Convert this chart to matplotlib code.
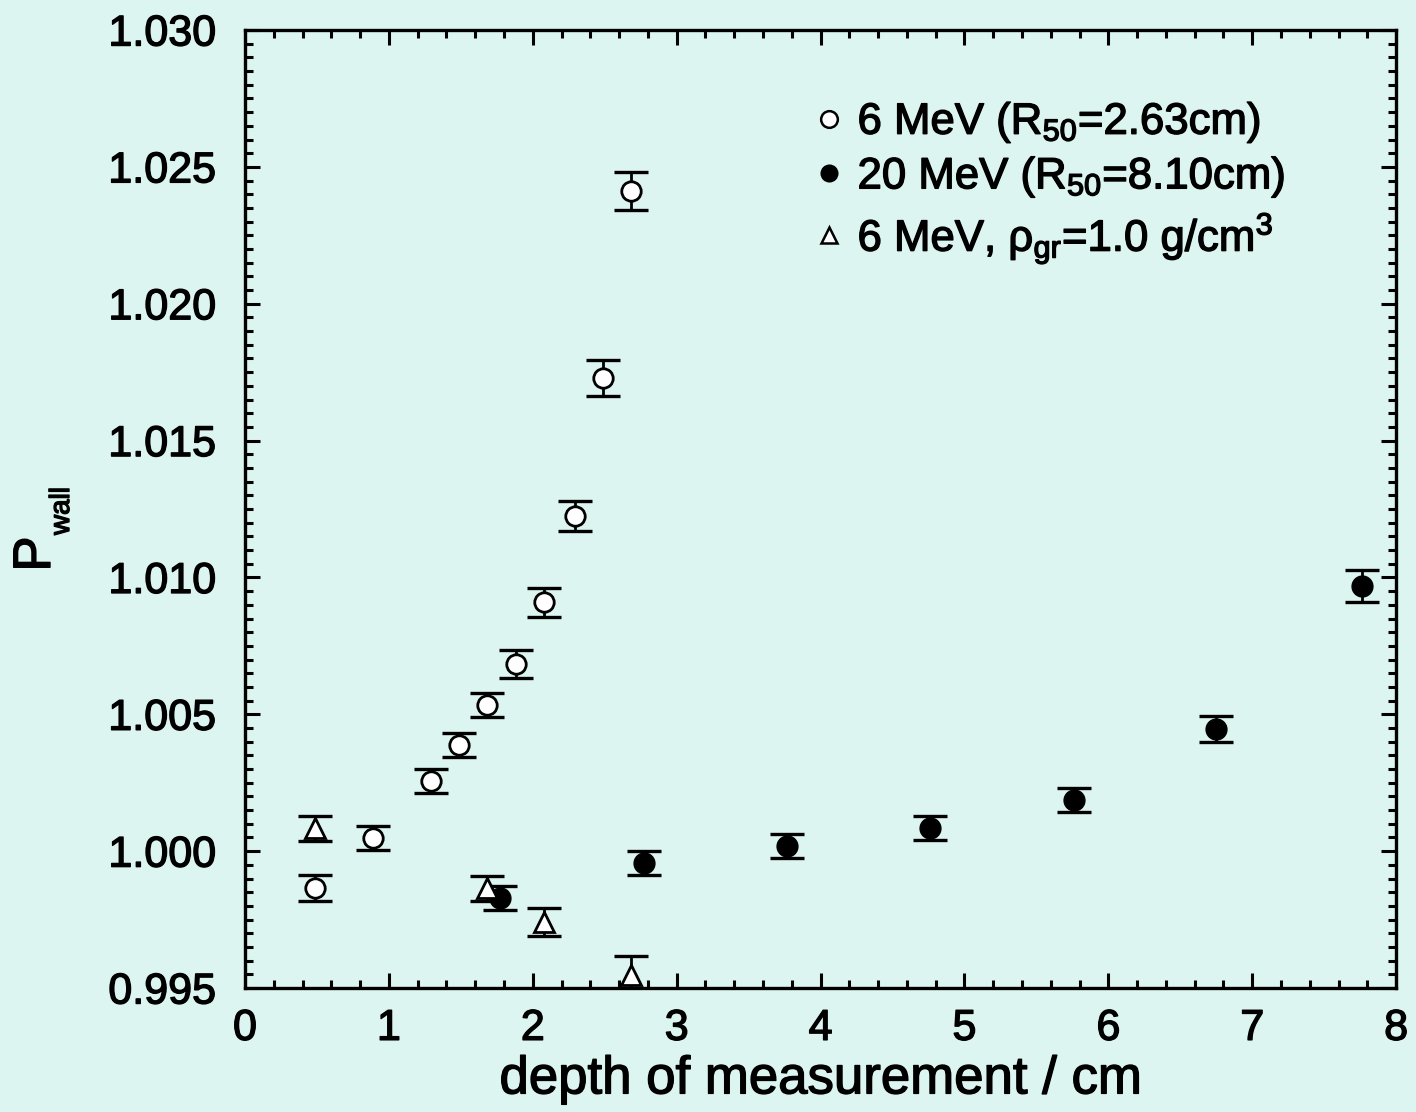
import numpy as np
import matplotlib.pyplot as plt
import matplotlib.patheffects as pe
from matplotlib.ticker import MultipleLocator, FormatStrFormatter
from matplotlib.lines import Line2D

plt.rcParams['font.family'] = ['Liberation Sans', 'DejaVu Sans']
plt.rcParams['mathtext.default'] = 'regular'

bg = '#dcf5f0'
heavy = [pe.withStroke(linewidth=1.0, foreground='black')]

# 6 MeV, open circles
x6 = [0.49, 0.89, 1.29, 1.49, 1.68, 1.88, 2.08, 2.29, 2.49, 2.68]
p6 = [0.99865, 1.00048, 1.00256, 1.00388, 1.00534, 1.00684, 1.00910, 1.01224, 1.01729, 1.02412]
e6 = [0.00047, 0.00045, 0.00045, 0.00045, 0.00045, 0.0005, 0.00053, 0.00055, 0.00065, 0.0007]

# 20 MeV, filled circles
x20 = [1.77, 2.77, 3.77, 4.76, 5.76, 6.75, 7.76]
p20 = [0.99829, 0.99957, 1.00019, 1.00084, 1.00187, 1.00446, 1.00969]
e20 = [0.00044, 0.00044, 0.00044, 0.00044, 0.00044, 0.00047, 0.0006]

# 6 MeV, graphite density 1.0 g/cm3, triangles
xg = [0.49, 1.68, 2.08, 2.68]
pg = [1.00084, 0.99865, 0.99741, 0.99547]
eg = [0.00046, 0.00046, 0.0005, 0.0007]

fig = plt.figure(figsize=(14.16, 11.12), dpi=100, facecolor=bg)
ax = fig.add_axes([0.173, 0.1115, 0.813, 0.8615], facecolor=bg)

eb = dict(fmt='none', ecolor='black', elinewidth=2, capsize=12.4, capthick=2.4)
ax.errorbar(x6, p6, yerr=e6, **eb)
ax.errorbar(x20, p20, yerr=e20, **eb)
ax.errorbar(xg, pg, yerr=eg, **eb)
ax.plot(x6, p6, 'o', ms=14, mfc='white', mec='black', mew=2)
ax.plot(x20, p20, 'o', ms=15, mfc='black', mec='black')
ax.plot(xg, pg, '^', ms=15, mfc='white', mec='black', mew=2)

ax.set_xlim(0, 8)
ax.set_ylim(0.995, 1.030)
ax.xaxis.set_major_locator(MultipleLocator(1))
ax.xaxis.set_minor_locator(MultipleLocator(0.2))
ax.yaxis.set_major_locator(MultipleLocator(0.005))
ax.yaxis.set_minor_locator(MultipleLocator(0.0005))
ax.yaxis.set_major_formatter(FormatStrFormatter('%.3f'))
ax.tick_params(which='both', direction='in', top=True, right=True, width=2.2)
ax.tick_params(which='major', length=11, labelsize=31)
ax.tick_params(axis='x', which='major', pad=15)
ax.tick_params(axis='y', which='major', pad=21)
ax.tick_params(which='minor', length=6)
for s in ax.spines.values():
    s.set_linewidth(2.4)

ax.set_xlabel('depth of measurement / cm', fontsize=38, labelpad=4,
              path_effects=heavy)

# y label: large P with a small "wall" subscript
fig.text(36 / 1416, 1 - 554 / 1112, 'P', fontsize=38, rotation=90,
         ha='center', va='center', path_effects=heavy)
fig.text(62 / 1416, 1 - 511 / 1112, 'wall', fontsize=20, rotation=90,
         ha='center', va='center', path_effects=heavy)

handles = [
    Line2D([], [], ls='none', marker='o', ms=12, mfc='white', mec='black', mew=1.8),
    Line2D([], [], ls='none', marker='o', ms=12, mfc='black', mec='black'),
    Line2D([], [], ls='none', marker='^', ms=12, mfc='white', mec='black', mew=1.8),
]
labels = [r'6 MeV (R$_{50}$=2.63cm)', r'20 MeV (R$_{50}$=8.10cm)',
          r'6 MeV, $\rho_{gr}$=1.0 g/cm$^3$']
leg = ax.legend(handles, labels, loc='upper left', bbox_to_anchor=(0.496, 0.927),
                frameon=False, fontsize=31.5, handlelength=0.6, handletextpad=0.35,
                labelspacing=0.22, borderpad=0, borderaxespad=0)
for t in leg.get_texts():
    t.set_path_effects(heavy)
for t in ax.get_xticklabels() + ax.get_yticklabels():
    t.set_path_effects(heavy)

fig.savefig('out.png', dpi=100, facecolor=bg)
